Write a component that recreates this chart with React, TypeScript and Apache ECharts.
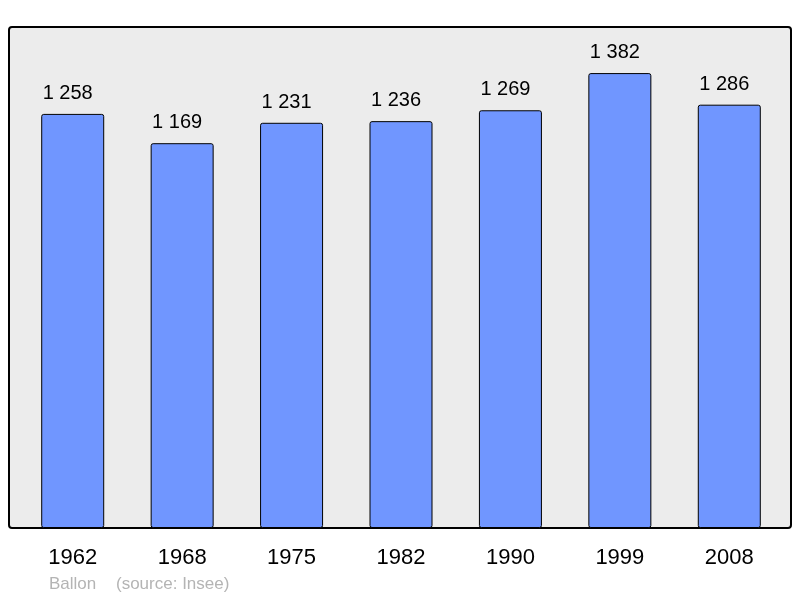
import React, { useEffect, useRef } from "react";
import * as echarts from "echarts";

const years = ["1962", "1968", "1975", "1982", "1990", "1999", "2008"];
const population = [1258, 1169, 1231, 1236, 1269, 1382, 1286];
const commune = "Ballon";
const source = "(source: Insee)";

const fmt = (v: number) => {
  const s = String(v);
  return s.replace(/\B(?=(\d{3})+(?!\d))/g, " ");
};

const FONT = "Liberation Sans, Arial, sans-serif";

export default function App() {
  const ref = useRef<HTMLDivElement>(null);
  useEffect(() => {
    if (!ref.current) return;
    const chart = echarts.init(ref.current, undefined, { renderer: "svg" });
    chart.setOption({
      animation: false,
      textStyle: { fontFamily: FONT },
      graphic: [
        {
          type: "rect",
          z: -10,
          shape: { x: 9, y: 27, width: 782, height: 501, r: 3 },
          style: { fill: "#ececec", stroke: "#000", lineWidth: 2 },
        },
        {
          type: "text",
          x: 49,
          y: 575,
          style: { text: commune, fontSize: 17, fill: "#b4b4b4", fontFamily: FONT },
        },
        {
          type: "text",
          x: 116,
          y: 575,
          style: { text: source, fontSize: 17, fill: "#b4b4b4", fontFamily: FONT },
        },
      ],
      grid: { left: 18, right: 16, top: 27, bottom: 70, containLabel: false },
      xAxis: {
        type: "category",
        data: years,
        axisLine: { show: false },
        axisTick: { show: false },
        axisLabel: { fontSize: 22, color: "#000", margin: 17 },
      },
      yAxis: {
        type: "value",
        min: 0,
        max: 1522,
        show: false,
        splitLine: { show: false },
      },
      series: [
        {
          type: "bar",
          data: population,
          barWidth: 63,
          itemStyle: { color: "#7096ff", borderColor: "#000", borderWidth: 1, borderRadius: 2 },
          label: {
            show: true,
            position: "top",
            distance: 12,
            offset: [-5, 0],
            fontSize: 20,
            color: "#000",
            formatter: (p: any) => fmt(p.value),
          },
        },
      ],
    });
    return () => chart.dispose();
  }, []);
  return <div ref={ref} style={{ position: "fixed", left: 0, top: 0, width: 800, height: 598 }} />;
}
